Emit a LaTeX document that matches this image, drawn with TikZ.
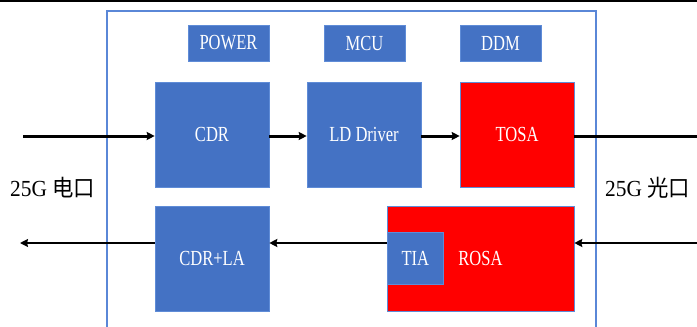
\documentclass[tikz,border=0pt]{standalone}
\usepackage{fontspec}
\setmainfont{Liberation Serif}
\newfontfamily\cjk{Noto Sans CJK SC}
\usetikzlibrary{arrows.meta}
\definecolor{boxblue}{RGB}{68,114,196}
\definecolor{boxedge}{RGB}{95,140,215}
\definecolor{framecol}{RGB}{90,135,215}
\definecolor{boxred}{RGB}{255,0,0}
\newcommand{\boxtext}[1]{\scalebox{0.77}[1]{\fontsize{21.5}{21.5}\selectfont #1}}
\newcommand{\porttext}[1]{\scalebox{0.93}[1]{\fontsize{23}{23}\selectfont #1}}
\tikzset{
  blk/.style={draw=boxedge, line width=0.6pt, fill=boxblue, text=white, inner sep=0pt, minimum width=114pt, minimum height=105pt},
  small/.style={draw=boxedge, line width=0.6pt, fill=boxblue, text=white, inner sep=0pt, minimum width=81pt, minimum height=36pt},
  redblk/.style={draw=boxedge, line width=0.6pt, fill=boxred, text=white, inner sep=0pt, minimum height=105pt},
  arr/.style={line width=3pt, -{Stealth[length=8pt,width=8pt,inset=1pt]}},
  arrb/.style={line width=2.5pt, -{Stealth[length=8pt,width=8pt,inset=1pt]}},
  plainline/.style={line width=3pt},
  portlbl/.style={anchor=west, inner sep=0pt, text=black}
}
\begin{document}
\begin{tikzpicture}[x=1pt, y=-1pt]
\useasboundingbox (0,0) rectangle (697,327);
\begin{scope}
\clip (0,0) rectangle (697,327);
% rule along the top edge
\draw[line width=2.2pt] (0,0.8) -- (697,0.8);
% module outline, open at the bottom
\draw[framecol, line width=2pt] (107,340) -- (107,11) -- (596,11) -- (596,340);

% management blocks
\node[small] (power) at (228.5,43) {\boxtext{POWER}};
\node[small] (mcu)   at (364.5,43) {\boxtext{MCU}};
\node[small] (ddm)   at (500.5,43) {\boxtext{DDM}};

% transmit path
\node[blk] (cdr) at (212,134.5) {\boxtext{CDR}};
\node[blk] (ld)  at (364,134.5) {\boxtext{LD Driver}};
\node[redblk, minimum width=114pt] (tosa) at (517,134.5) {\boxtext{TOSA}};

% receive path
\node[blk] (cdrla) at (212,258.5) {\boxtext{CDR+LA}};
\node[redblk, minimum width=187pt] (rosa) at (480.5,258.5) {\boxtext{ROSA}};
\node[draw=boxedge, line width=0.6pt, fill=boxblue, text=white, inner sep=0pt,
      minimum width=56pt, minimum height=52pt, anchor=west] (tia) at (387,258) {\boxtext{TIA}};

% port labels
\node[portlbl] (elec) at (10,188) {\porttext{25G {\cjk 电口}}};
\node[portlbl] (opt)  at (605,188) {\porttext{25G {\cjk 光口}}};

% connector end points at the picture edges
\coordinate (txin)  at (23,136);
\coordinate (txout) at (697,136);
\coordinate (rxin)  at (697,243);
\coordinate (rxout) at (20,243);

% transmit connectors
\draw[arr] (txin) -- (txin -| cdr.west);
\draw[arr] (cdr.east |- txin) -- (ld.west |- txin);
\draw[arr] (ld.east |- txin) -- (tosa.west |- txin);
\draw[plainline] (tosa.east |- txout) -- (txout);

% receive connectors
\draw[arrb] (rxin) -- (rosa.east |- rxin);
\draw[arrb] (rosa.west |- rxin) -- (cdrla.east |- rxin);
\draw[arrb] (cdrla.west |- rxout) -- (rxout);
\end{scope}
\end{tikzpicture}
\end{document}
